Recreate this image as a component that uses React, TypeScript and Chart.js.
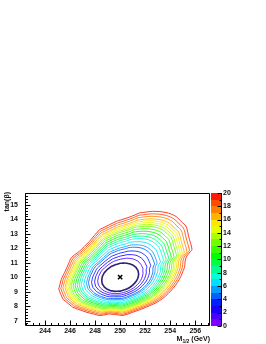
import React, { useEffect, useRef } from 'react';
import { Chart, registerables } from 'chart.js';

Chart.register(...registerables);

// ---- data ----
const mTicks = [244, 246, 248, 250, 252, 254, 256];
const tanbTicks = [7, 8, 9, 10, 11, 12, 13, 14, 15];
const zTicks = [0, 2, 4, 6, 8, 10, 12, 14, 16, 18, 20];

const levels = [1, 2, 3, 4, 5, 6, 7, 8, 9, 10, 11, 12, 13, 14, 15, 16, 17, 18, 19, 20];
// relative position of each contour between the innermost and outermost contour
const levelFraction = [0, 0.095, 0.167, 0.238, 0.31, 0.357, 0.417, 0.476, 0.524, 0.571,
  0.619, 0.667, 0.714, 0.75, 0.786, 0.821, 0.857, 0.905, 0.952, 1];

const bestFitM = 250;
const bestFitTanB = 10;

// innermost contour (level 1)
const innerM = [251.43, 251.48, 251.42, 251.27, 251.03, 250.73, 250.37, 249.99, 249.61, 249.25, 248.95, 248.72,
  248.57, 248.53, 248.58, 248.73, 248.97, 249.27, 249.63, 250.01, 250.39, 250.75, 251.05, 251.28];
const innerTanB = [10.45, 10.21, 9.95, 9.70, 9.47, 9.27, 9.13, 9.04, 9.02, 9.07, 9.18, 9.34,
  9.55, 9.79, 10.05, 10.30, 10.53, 10.73, 10.87, 10.96, 10.98, 10.93, 10.82, 10.66];

// outermost contour (level 20)
const edgeM = [250.90, 249.70, 248.36, 247.56, 246.76, 246.10, 245.56, 245.30, 245.10, 245.42,
  246.22, 247.30, 248.36, 249.16, 250.22, 251.02, 252.06, 253.14, 254.06, 254.74,
  255.14, 255.26, 255.74, 255.54, 255.26, 254.46, 253.66, 252.60, 251.54];
const edgeTanB = [14.20, 13.86, 13.29, 12.49, 11.80, 11.35, 10.32, 9.86, 9.18, 8.49,
  7.92, 7.58, 7.35, 7.46, 7.35, 7.58, 7.92, 8.37, 9.06, 9.86,
  10.67, 11.35, 11.92, 12.61, 13.52, 14.20, 14.47, 14.55, 14.44];

// palette bands 0-1 ... 19-20
const bandColors = ['#7b00ff', '#4a00ff', '#1900ff', '#0020ff', '#0060ff', '#00a0ff', '#00dfff',
  '#00ffdb', '#00ff92', '#00ff49', '#00ff00', '#39ff00', '#71ff00', '#aaff00', '#e3ff00',
  '#ffe600', '#ffb300', '#ff8000', '#ff4d00', '#ff1a00'];

const FONT = '"Liberation Sans", Arial, Helvetica, sans-serif';

function rayHit(cx: number, cy: number, dx: number, dy: number, px: number[], py: number[]): number {
  let best = 0;
  const n = px.length;
  for (let i = 0; i < n; i++) {
    const ax = px[i], ay = py[i];
    const bx = px[(i + 1) % n], by = py[(i + 1) % n];
    const ex = bx - ax, ey = by - ay;
    const den = dx * ey - dy * ex;
    if (Math.abs(den) < 1e-12) continue;
    const wx = ax - cx, wy = ay - cy;
    const t = (wx * ey - wy * ex) / den;
    const s = (wx * dy - wy * dx) / den;
    if (t > 0 && s >= -1e-9 && s <= 1 + 1e-9) best = Math.max(best, t);
  }
  return best;
}

function buildContours() {
  const angs: number[] = [];
  const addAng = (x: number, y: number) => angs.push(Math.atan2(y - bestFitTanB, x - bestFitM));
  innerM.forEach((x, i) => addAng(x, innerTanB[i]));
  edgeM.forEach((x, i) => addAng(x, edgeTanB[i]));
  angs.sort((a, b) => a - b);
  const uniq: number[] = [];
  angs.forEach((a) => {
    if (!uniq.length || a - uniq[uniq.length - 1] > 0.01) uniq.push(a);
  });
  const rays = uniq.map((a) => {
    const dx = Math.cos(a), dy = Math.sin(a);
    return {
      dx, dy,
      rin: rayHit(bestFitM, bestFitTanB, dx, dy, innerM, innerTanB),
      rout: rayHit(bestFitM, bestFitTanB, dx, dy, edgeM, edgeTanB),
    };
  });
  return levels.map((lv, i) => {
    const f = levelFraction[i];
    const pts = rays.map((r) => {
      const rr = r.rin + f * (r.rout - r.rin);
      return { x: bestFitM + rr * r.dx, y: bestFitTanB + rr * r.dy };
    });
    pts.push({ ...pts[0] });
    return { level: lv, pts };
  });
}

const decorPlugin = {
  id: 'decor',
  afterDraw(chart: any) {
    const ctx = chart.ctx as CanvasRenderingContext2D;
    const { left, right, top, bottom } = chart.chartArea;
    const xs = chart.scales.x;
    const ys = chart.scales.y;
    const cb = chart.scales.cbar;
    ctx.save();
    // colour bar
    const bx = Math.round(right) + 2;
    const bw = 10;
    for (let k = 0; k < 20; k++) {
      const y0 = Math.round(cb.getPixelForValue(k));
      const y1 = Math.round(cb.getPixelForValue(k + 1));
      ctx.fillStyle = bandColors[k];
      ctx.fillRect(bx, y1, bw, y0 - y1);
    }
    ctx.strokeStyle = '#000';
    ctx.lineWidth = 1;
    ctx.beginPath();
    const ax = bx + bw + 0.5;
    ctx.moveTo(ax, Math.round(top));
    ctx.lineTo(ax, Math.round(bottom));
    for (let v = 0; v <= 20; v++) {
      const py = Math.round(cb.getPixelForValue(v)) + 0.5;
      const len = v % 2 === 0 ? 4 : 2;
      ctx.moveTo(ax, py);
      ctx.lineTo(ax - len, py);
    }
    ctx.stroke();

    // frame
    const L = Math.round(left) + 0.5;
    const R = Math.round(right) + 0.5;
    const T = Math.round(top) + 0.5;
    const B = Math.round(bottom) - 0.5;
    ctx.beginPath();
    ctx.rect(L, T, R - L, B - T);
    // x ticks
    for (let i = Math.ceil(xs.min * 2); i <= Math.floor(xs.max * 2); i++) {
      const v = i / 2;
      const px = Math.round(xs.getPixelForValue(v)) + 0.5;
      const len = i % 4 === 0 ? 5 : 2.5;
      ctx.moveTo(px, B);
      ctx.lineTo(px, B - len);
    }
    // y ticks
    for (let i = Math.ceil(ys.min * 5); i <= Math.floor(ys.max * 5); i++) {
      const v = i / 5;
      const py = Math.round(ys.getPixelForValue(v)) + 0.5;
      const len = i % 5 === 0 ? 5 : 2.5;
      ctx.moveTo(L, py);
      ctx.lineTo(L + len, py);
    }
    ctx.stroke();

    // titles
    ctx.fillStyle = '#111';
    ctx.save();
    ctx.translate(7, Math.round(top) - 1);
    ctx.rotate(-Math.PI / 2);
    ctx.font = `bold 7px ${FONT}`;
    ctx.textAlign = 'right';
    ctx.textBaseline = 'middle';
    ctx.fillText('tan(β)', 0, 0);
    ctx.restore();

    const big = `bold 7px ${FONT}`;
    const small = `bold 5px ${FONT}`;
    ctx.textAlign = 'left';
    ctx.textBaseline = 'alphabetic';
    ctx.font = big;
    const wM = ctx.measureText('M').width;
    const wG = ctx.measureText(' (GeV)').width;
    ctx.font = small;
    const wS = ctx.measureText('1/2').width;
    const endX = Math.round(right) + 1;
    const base = 341;
    let x0 = endX - (wM + wS + wG);
    ctx.font = big;
    ctx.fillText('M', x0, base);
    x0 += wM;
    ctx.font = small;
    ctx.fillText('1/2', x0, base + 1.5);
    x0 += wS;
    ctx.font = big;
    ctx.fillText(' (GeV)', x0, base);
    ctx.restore();
  },
};

export default function App() {
  const ref = useRef<HTMLCanvasElement>(null);
  useEffect(() => {
    const canvas = ref.current!;
    const contours = buildContours();
    const datasets: any[] = contours.map((c, i) => ({
      data: c.pts,
      showLine: true,
      borderColor: i === 0 ? '#2a2370' : bandColors[i],
      borderWidth: i === 0 ? 1.6 : 0.85,
      pointRadius: 0,
      tension: 0.35,
      fill: false,
      xAxisID: 'x',
      yAxisID: 'y',
    }));
    datasets.unshift({
      data: [{ x: bestFitM, y: bestFitTanB }],
      showLine: false,
      pointStyle: 'crossRot',
      pointRadius: 3,
      borderColor: '#000',
      borderWidth: 1.5,
      xAxisID: 'x',
      yAxisID: 'y',
    });
    const tickFont = { family: FONT, size: 7, weight: 'bold' as const };
    const chart = new Chart(canvas, {
      type: 'scatter',
      data: { datasets },
      plugins: [decorPlugin],
      options: {
        animation: false,
        responsive: false,
        events: [],
        layout: { padding: { top: 193, left: 0, right: 0, bottom: 0 } },
        plugins: { legend: { display: false }, tooltip: { enabled: false } },
        scales: {
          x: {
            type: 'linear',
            position: 'bottom',
            min: 242.4,
            max: 257.1,
            afterBuildTicks: (a: any) => { a.ticks = mTicks.map((v) => ({ value: v })); },
            afterFit: (s: any) => { s.height = 17; },
            grid: { display: false, drawTicks: false },
            border: { display: false },
            ticks: { padding: 1, font: tickFont, color: '#111', maxRotation: 0, autoSkip: false },
          },
          y: {
            type: 'linear',
            position: 'left',
            min: 6.64,
            max: 15.82,
            afterBuildTicks: (a: any) => { a.ticks = tanbTicks.map((v) => ({ value: v })); },
            afterFit: (s: any) => { s.width = 25; },
            grid: { display: false, drawTicks: false },
            border: { display: false },
            ticks: { padding: 7, font: tickFont, color: '#111', autoSkip: false },
          },
          cbar: {
            type: 'linear',
            axis: 'y',
            position: 'right',
            min: 0,
            max: 20,
            afterBuildTicks: (a: any) => { a.ticks = zTicks.map((v) => ({ value: v })); },
            afterFit: (s: any) => { s.width = 57; },
            grid: { display: false, drawTicks: false },
            border: { display: false },
            ticks: { padding: 14, font: tickFont, color: '#111', autoSkip: false },
          },
        } as any,
      },
    });
    return () => chart.destroy();
  }, []);
  return (
    <div style={{ position: 'fixed', left: 0, top: 0, width: 266, height: 344, background: '#fff' }}>
      <canvas ref={ref} width={266} height={344} style={{ display: 'block' }} />
    </div>
  );
}
